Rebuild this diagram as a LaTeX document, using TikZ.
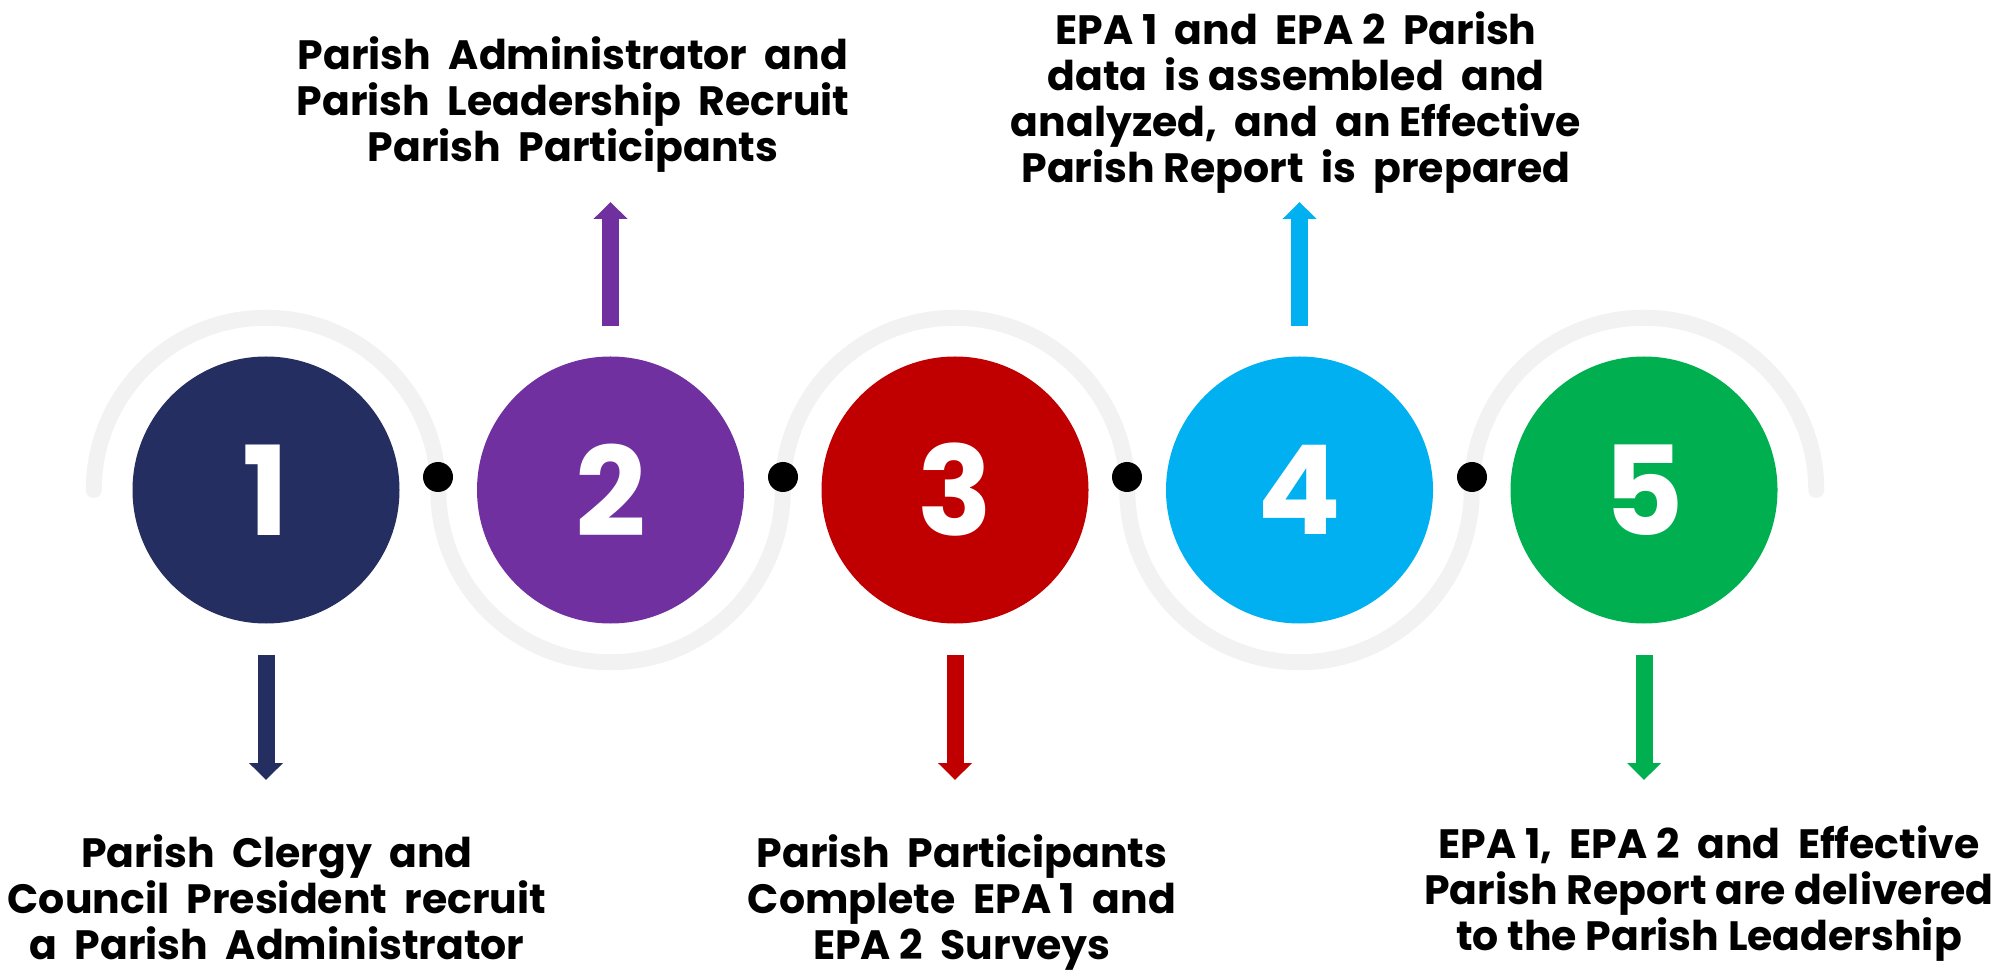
\documentclass[tikz,border=0pt]{standalone}
\usepackage{fontspec}
\setmainfont{Poppins}
\usetikzlibrary{positioning,arrows.meta}
\definecolor{stepnavy}{HTML}{242E60}
\definecolor{steppurple}{HTML}{7030A0}
\definecolor{stepred}{HTML}{C00000}
\definecolor{stepcyan}{HTML}{00B0F0}
\definecolor{stepgreen}{HTML}{00B050}
\definecolor{wavegray}{HTML}{F2F2F2}

\begin{document}
\begin{tikzpicture}[x=0.5pt,y=0.5pt]
    \tikzset{
        stepcircle/.style={circle,minimum size=133.5pt,inner sep=0pt,text=white,
            font=\bfseries\fontsize{62}{62}\selectfont},
        steptext/.style={align=center,text=black,inner sep=0pt,
            font=\bfseries\fontsize{20.5}{23}\selectfont},
        steparrow/.style={line width=8.5pt,-{Triangle[length=8.5pt,width=16.5pt]}},
        wave/.style={line width=8pt,draw=wavegray,line cap=round},
        joint/.style={circle,fill=black,minimum size=15pt,inner sep=0pt},}
    \def\r{172.25}
    \useasboundingbox (0,0) rectangle (2012,970);
    % grey wave behind the circles
    \draw [wave] (93.75,480) arc (180:0:\r) arc (180:360:\r) arc (180:0:\r)
        arc (180:360:\r) arc (180:0:\r);
    % steps
    \node [stepcircle,fill=stepnavy] (c1) at (266,480) {1};
    \node [stepcircle,fill=steppurple] (c2) at (610.5,480) {2};
    \node [stepcircle,fill=stepred] (c3) at (955,480) {3};
    \node [stepcircle,fill=stepcyan] (c4) at (1299.5,480) {4};
    \node [stepcircle,fill=stepgreen] (c5) at (1644,480) {5};
    \node [joint] (j1) at (438,493) {};
    \node [joint] (j2) at (783,493) {};
    \node [joint] (j3) at (1127,493) {};
    \node [joint] (j4) at (1472,493) {};
    % texts
    \node [steptext] (t1) at (277,73) {Parish \ Clergy \ and\\Council \ President \ recruit\\a \ Parish \ Administrator};
    \node [steptext] (t2) at (573,865) {Parish \ Administrator \ and\\Parish \ Leadership \ Recruit\\Parish \ Participants};
    \node [steptext] (t3) at (962,67.5) {Parish \ Participants\\Complete \ EPA 1 \ and\\EPA 2 \ Surveys};
    \node [steptext] (t4) at (1296,867.5) {EPA 1 \ and \ EPA 2 \ Parish\\data \ is assembled \ and\\analyzed, \ and \ an Effective\\Parish Report \ is \ prepared};
    \node [steptext] (t5) at (1709,76.5) {EPA 1, \ EPA 2 \ and \ Effective\\Parish Report are delivered\\to the Parish Leadership};
    \coordinate (a1) at (266,190);
    \coordinate (a2) at (610.5,768);
    \coordinate (a3) at (955,190);
    \coordinate (a4) at (1299.5,768);
    \coordinate (a5) at (1644,190);
    \draw [steparrow,stepnavy,shorten <=15.5pt] (c1.south) -- (a1);
    \draw [steparrow,steppurple,shorten <=15pt] (c2.north) -- (a2);
    \draw [steparrow,stepred,shorten <=15.5pt] (c3.south) -- (a3);
    \draw [steparrow,stepcyan,shorten <=15pt] (c4.north) -- (a4);
    \draw [steparrow,stepgreen,shorten <=15.5pt] (c5.south) -- (a5);
\end{tikzpicture}
\end{document}
